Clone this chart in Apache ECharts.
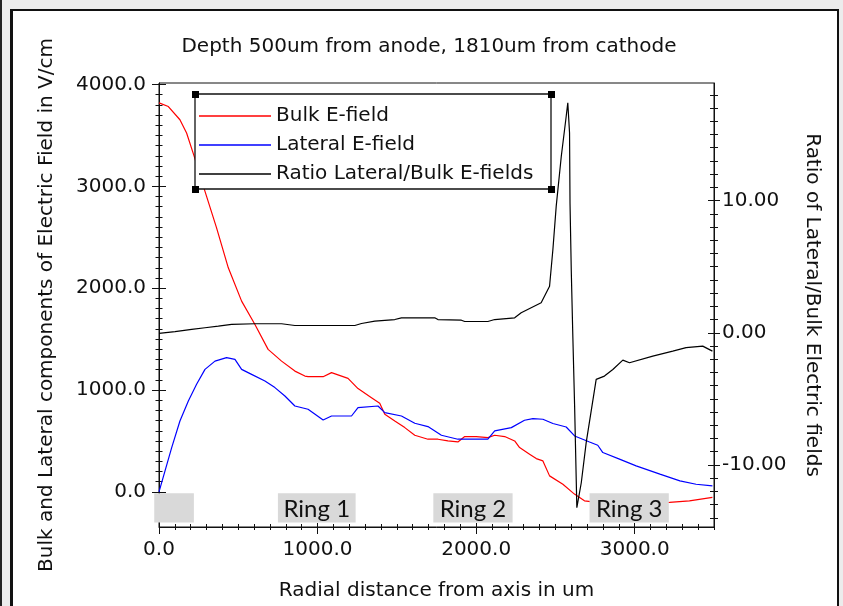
<!DOCTYPE html>
<html>
<head>
<meta charset="utf-8">
<script src="https://cdn.jsdelivr.net/npm/echarts@6/dist/echarts.min.js"></script>
<style>
html, body { margin: 0; padding: 0; background: #ececec; overflow: hidden; }
#edge { position: absolute; left: 0; top: 0; width: 2px; height: 606px; background: #222; }
#panel { position: absolute; left: 10px; top: 9px; width: 824px; height: 620px; background: #fff;
  border-left: 3px solid #111; border-top: 2px solid #111; border-right: 2px solid #111; }
#chart { position: absolute; left: 0; top: 0; width: 843px; height: 606px; }
</style>
</head>
<body>
<div id="edge"></div>
<div id="panel"></div>
<div id="chart"></div>
<script>
// Radial positions (um) and field values along the 500um-depth cut
const bulkRadius = [0, 59, 132, 174, 222, 290, 363, 437, 521, 605, 688, 773, 857, 920, 940, 1035, 1088,
  1192, 1255, 1340, 1392, 1424, 1487, 1550, 1613, 1696, 1759, 1822, 1885, 1928, 2001, 2074, 2117, 2180,
  2243, 2274, 2337, 2379, 2421, 2463, 2547, 2620, 2683, 2750, 2900, 3050, 3219, 3345, 3490];
const bulkField = [3820, 3784, 3654, 3524, 3294, 2951, 2592, 2200, 1873, 1644, 1399, 1284, 1186, 1137, 1131, 1131, 1171,
  1115, 1014, 925, 870, 762, 696, 631, 556, 517, 517, 500, 490, 543, 543, 533, 556, 543,
  500, 435, 370, 327, 304, 157, 75, -22, -88, -100, -105, -105, -104, -88, -55];

const lateralRadius = [0, 38, 80, 132, 185, 237, 290, 353, 426, 479, 521, 584, 668, 731, 794, 857, 940, 1035,
  1088, 1214, 1255, 1381, 1424, 1529, 1613, 1696, 1781, 1885, 1991, 2074, 2117, 2222, 2305, 2358, 2421,
  2484, 2568, 2621, 2715, 2767, 2799, 2904, 3009, 3159, 3285, 3387, 3490];
const lateralField = [0, 206, 435, 696, 892, 1056, 1203, 1284, 1318, 1301, 1203, 1154, 1088, 1024, 941, 843, 811, 706,
  745, 745, 827, 843, 778, 745, 674, 641, 556, 517, 517, 517, 599, 631, 703, 720, 713,
  671, 637, 549, 490, 458, 386, 321, 255, 174, 108, 75, 59];

const ratioRadius = [0, 101, 206, 290, 374, 458, 605, 773, 857, 1235, 1277, 1361, 1487, 1529, 1739, 1759, 1907,
  1928, 2074, 2117, 2243, 2284, 2410, 2463, 2484, 2505, 2537, 2568, 2578, 2589, 2592, 2600, 2610, 2621, 2635,
  2663, 2694, 2757, 2809, 2862, 2925, 2967, 3114, 3240, 3324, 3429, 3490];
const ratioValue = [-0.05, 0.08, 0.25, 0.38, 0.50, 0.63, 0.68, 0.68, 0.55, 0.55, 0.70, 0.88, 1.00, 1.13, 1.13, 1.00, 0.95,
  0.85, 0.85, 1.00, 1.13, 1.51, 2.27, 3.52, 6.30, 9.58, 13.36, 16.38, 17.40, 15.13, 9.80, 4.66, -0.38, -5.55, -13.24,
  -11.35, -8.32, -3.53, -3.28, -2.78, -2.07, -2.27, -1.77, -1.39, -1.13, -1.01, -1.39];

// Electrode ring bands along the radius (um), labelled below the curves
const ringNames = ['', 'Ring 1', 'Ring 2', 'Ring 3'];
const ringFrom = [-30, 750, 1730, 2715];
const ringTo = [220, 1240, 2230, 3215];
const ringBand = [-13, -300];

// Tick labels
const radiusTicks = [0, 1000, 2000, 3000];
const fieldTicks = [0, 1000, 2000, 3000, 4000];
const ratioTicks = [-10, 0, 10];

const seriesNames = ['Bulk E-field', 'Lateral E-field', 'Ratio Lateral/Bulk E-fields'];

const FONT = 'DejaVu Sans';
const INK = '#111';

function range(a, b, step) {
  const out = [];
  for (let v = a; v <= b + 1e-9; v += step) out.push(v);
  return out;
}
function zip(xs, ys) { return xs.map((x, i) => [x, ys[i]]); }

const X_MIN = 0, X_MAX = 3500;
const L_MIN = -345, L_MAX = 4015;
const R_MIN = -14.7, R_MAX = 18.9;

const radiusMinor = range(0, 3500, 100);
const fieldMinor = range(0, 4000, 100);
const ratioMinor = range(-14, 18, 1);

const tickLine = { color: INK, width: 1 };

// Tick-only axis sharing the scale of a labelled axis (draws ticks across the axis line)
function tickAxis(position, min, max, values, length, inside) {
  return {
    type: 'value', position, min, max, offset: 0,
    axisLine: { show: false, onZero: false },
    axisLabel: { show: false },
    splitLine: { show: false },
    axisTick: { show: true, inside, length, customValues: values, lineStyle: tickLine }
  };
}

// Framed legend box with square corner handles
const legendFrame = [
  { id: 'lgBox', type: 'rect', z: 3, shape: { x: 195, y: 94, width: 356, height: 95 },
    style: { fill: '#fff', stroke: INK, lineWidth: 1.3 } },
  { id: 'lgC1', type: 'rect', z: 4, shape: { x: 192, y: 91, width: 7, height: 7 }, style: { fill: '#000' } },
  { id: 'lgC2', type: 'rect', z: 4, shape: { x: 548, y: 91, width: 7, height: 7 }, style: { fill: '#000' } },
  { id: 'lgC3', type: 'rect', z: 4, shape: { x: 192, y: 186, width: 7, height: 7 }, style: { fill: '#000' } },
  { id: 'lgC4', type: 'rect', z: 4, shape: { x: 548, y: 186, width: 7, height: 7 }, style: { fill: '#000' } }
];

const chart = echarts.init(document.getElementById('chart'), null, { renderer: 'canvas' });

const option = {
  animation: false,
  backgroundColor: 'transparent',
  title: {
    text: 'Depth 500um from anode, 1810um from cathode',
    left: 424, top: 32, textAlign: 'center',
    textStyle: { fontFamily: FONT, fontSize: 20, fontWeight: 'normal', color: INK }
  },
  grid: {
    left: 159, top: 83, width: 555, height: 445,
    show: true, borderColor: INK, borderWidth: 1, backgroundColor: 'transparent'
  },
  legend: {
    data: seriesNames,
    orient: 'vertical', left: 199, top: 106, padding: 0,
    itemWidth: 72, itemHeight: 1.5, itemGap: 9, icon: 'rect',
    selectedMode: false,
    textStyle: { fontFamily: FONT, fontSize: 20, color: INK },
    z: 5
  },
  graphic: { elements: legendFrame },
  xAxis: [
    {
      type: 'value', position: 'bottom', min: X_MIN, max: X_MAX,
      name: 'Radial distance from axis in um', nameLocation: 'middle', nameGap: 54,
      nameTextStyle: { fontFamily: FONT, fontSize: 20, color: INK },
      axisLine: { show: true, onZero: false, lineStyle: tickLine },
      axisTick: { show: true, length: 7, customValues: radiusTicks, lineStyle: tickLine },
      axisLabel: { customValues: radiusTicks, formatter: v => v.toFixed(1), margin: 13,
        fontFamily: FONT, fontSize: 20, color: INK },
      splitLine: { show: false }
    },
    tickAxis('bottom', X_MIN, X_MAX, radiusTicks, 4, true),
    tickAxis('bottom', X_MIN, X_MAX, radiusMinor, 3, false),
    tickAxis('bottom', X_MIN, X_MAX, radiusMinor, 3, true)
  ],
  yAxis: [
    {
      type: 'value', position: 'left', min: L_MIN, max: L_MAX,
      name: 'Bulk and Lateral components of Electric Field in V/cm', nameLocation: 'middle', nameGap: 102,
      nameTextStyle: { fontFamily: FONT, fontSize: 20, color: INK },
      axisLine: { show: true, onZero: false, lineStyle: tickLine },
      axisTick: { show: true, length: 7, customValues: fieldTicks, lineStyle: tickLine },
      axisLabel: { customValues: fieldTicks, formatter: v => v.toFixed(1), margin: 13,
        fontFamily: FONT, fontSize: 20, color: INK },
      splitLine: { show: false }
    },
    tickAxis('left', L_MIN, L_MAX, fieldTicks, 7, true),
    tickAxis('left', L_MIN, L_MAX, fieldMinor, 3.5, false),
    tickAxis('left', L_MIN, L_MAX, fieldMinor, 3.5, true),
    {
      type: 'value', position: 'right', min: R_MIN, max: R_MAX,
      name: 'Ratio of Lateral/Bulk Electric fields', nameLocation: 'middle', nameGap: 88, nameRotate: -90,
      nameTextStyle: { fontFamily: FONT, fontSize: 20, color: INK },
      axisLine: { show: true, onZero: false, lineStyle: tickLine },
      axisTick: { show: true, length: 6, customValues: ratioTicks, lineStyle: tickLine },
      axisLabel: { customValues: ratioTicks, formatter: v => v.toFixed(2), margin: 8,
        fontFamily: FONT, fontSize: 20, color: INK },
      splitLine: { show: false }
    },
    tickAxis('right', R_MIN, R_MAX, ratioTicks, 6, true),
    tickAxis('right', R_MIN, R_MAX, ratioMinor, 4, false),
    tickAxis('right', R_MIN, R_MAX, ratioMinor, 4, true)
  ],
  series: [
    {
      name: seriesNames[0], type: 'line', xAxisIndex: 0, yAxisIndex: 0,
      data: zip(bulkRadius, bulkField), symbol: 'none', z: 2,
      lineStyle: { color: '#ff0000', width: 1.2 }, itemStyle: { color: '#ff0000' }
    },
    {
      name: seriesNames[1], type: 'line', xAxisIndex: 0, yAxisIndex: 0,
      data: zip(lateralRadius, lateralField), symbol: 'none', z: 2,
      lineStyle: { color: '#0000ff', width: 1.2 }, itemStyle: { color: '#0000ff' }
    },
    {
      name: seriesNames[2], type: 'line', xAxisIndex: 0, yAxisIndex: 4,
      data: zip(ratioRadius, ratioValue), symbol: 'none', z: 2,
      lineStyle: { color: '#000000', width: 1.2 }, itemStyle: { color: '#000000' }
    }
  ]
};

chart.setOption(option);

// Ring bands: placed through the axis scales (unclamped, so the first band may start left of r = 0)
const ringShapes = [];
ringNames.forEach((n, i) => {
  const p0 = chart.convertToPixel({ xAxisIndex: 0, yAxisIndex: 0 }, [ringFrom[i], ringBand[0]]);
  const p1 = chart.convertToPixel({ xAxisIndex: 0, yAxisIndex: 0 }, [ringTo[i], ringBand[1]]);
  ringShapes.push({
    id: 'ring' + i, type: 'rect', z: 6,
    shape: { x: p0[0], y: p0[1], width: p1[0] - p0[0], height: p1[1] - p0[1] },
    style: { fill: '#d9d9d9' }
  });
  if (n) {
    ringShapes.push({
      id: 'ringText' + i, type: 'text', z: 7,
      x: (p0[0] + p1[0]) / 2, y: (p0[1] + p1[1]) / 2 + 1,
      style: { text: n, font: '24px Lato', fill: INK, align: 'center', verticalAlign: 'middle' }
    });
  }
});
chart.setOption({ graphic: { elements: legendFrame.concat(ringShapes) } });
</script>
</body>
</html>
